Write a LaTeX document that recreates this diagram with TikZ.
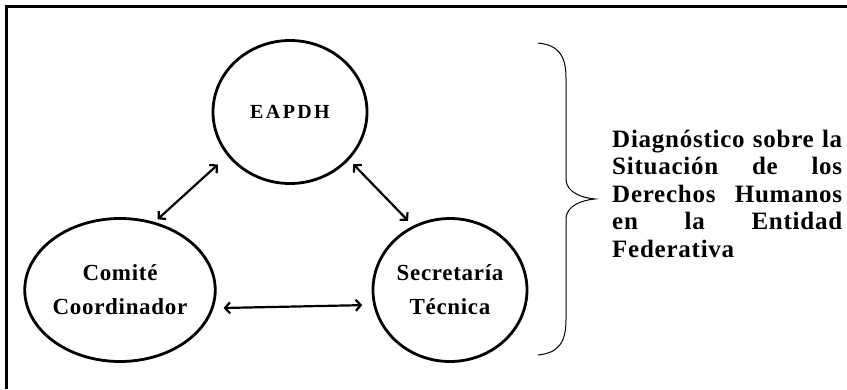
\documentclass[tikz,border=0pt]{standalone}
\usepackage{fontspec}
\setmainfont[LetterSpace=3]{Liberation Serif}
\newfontfamily\widefont[LetterSpace=12]{Liberation Serif}
\usetikzlibrary{shapes.geometric, positioning, arrows.meta}

\begin{document}
\begin{tikzpicture}[x=1pt, y=-1pt, on grid,
    >={Straight Barb[length=5pt,width=11pt]},
    oval/.style={ellipse, draw, line width=2.8pt, minimum width=154pt, minimum height=143pt,
      inner sep=0pt, align=center, font=\bfseries\fontsize{23}{34}\selectfont},
    link/.style={<->, line width=2.2pt}]
    \useasboundingbox (0,0) rectangle (847,389);
    \draw[line width=3pt] (6,389) -- (6,6) -- (847,6);

    \node[oval, font=\widefont\bfseries\fontsize{20}{24}\selectfont] (eapdh) at (290,112) {EAPDH};
    \node[oval, below left=178pt and 170pt of eapdh] (comite) {Comité\\Coordinador};
    \node[oval, right=330pt of comite] (secretaria) {Secretaría\\Técnica};

    \path[link] (eapdh.215) edge[shorten <=13pt, shorten >=4pt] (comite.63);
    \path[link] (eapdh.321) edge[shorten <=6pt, shorten >=7pt] (secretaria.120);
    \path[link] (comite.-11) edge[shorten <=10pt, shorten >=11pt] (secretaria.191);

    % llave
    \draw[line width=1pt] (538,43) .. controls (558,45) and (566,55) .. (566,78) -- (566,180)
      .. controls (567,193) and (583,198) .. coordinate[pos=1] (tip) (595,199)
      .. controls (583,200) and (567,205) .. (566,218) -- (566,320)
      .. controls (566,343) and (558,353) .. (538,355);

    \node[anchor=base west, inner sep=0pt] (diag) at (612,147)
      {\parbox[t]{230pt}{\bfseries\fontsize{25}{27.5}\selectfont
       \makebox[230pt][s]{Diagnóstico sobre la}\\
       \makebox[230pt][s]{Situación de los}\\
       \makebox[230pt][s]{Derechos Humanos}\\
       \makebox[230pt][s]{en la Entidad}\\
       Federativa}};
\end{tikzpicture}
\end{document}
